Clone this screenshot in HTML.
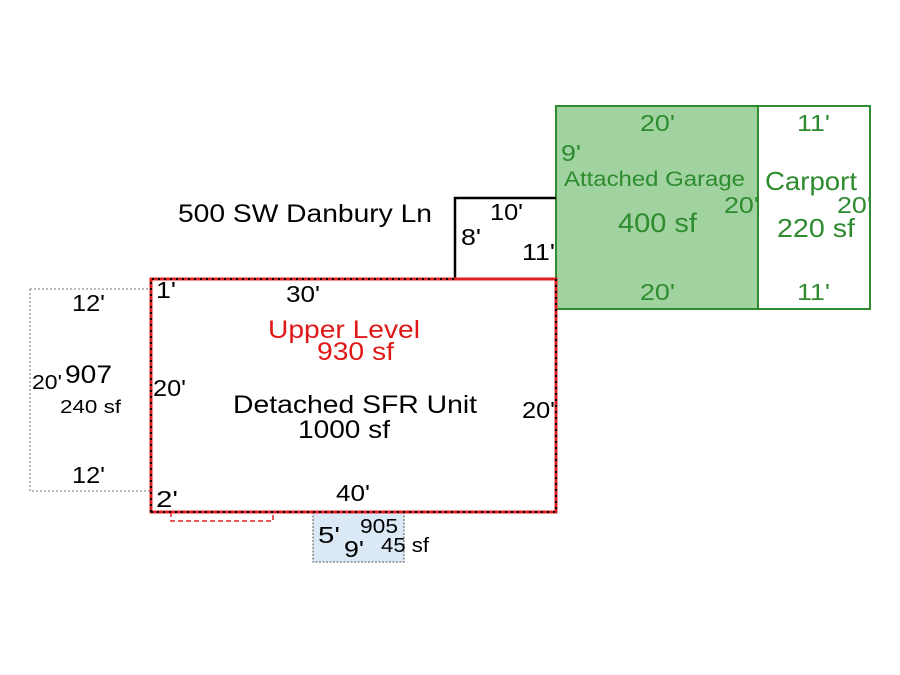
<!DOCTYPE html>
<html><head><meta charset="utf-8"><style>
html,body{margin:0;padding:0;background:#fff;}
svg{display:block;}
text{font-family:"Liberation Sans",Arial,sans-serif;}
</style></head><body>
<svg width="900" height="675" viewBox="0 0 900 675" xmlns="http://www.w3.org/2000/svg">
<rect width="900" height="675" fill="#fff"/>
<rect x="30" y="289" width="121" height="202" fill="none" stroke="#777" stroke-width="1" stroke-dasharray="2,2"/>
<rect x="556" y="106" width="202" height="203" fill="#a0d3a0" stroke="#2e8b2e" stroke-width="2"/>
<rect x="758" y="106" width="112" height="203" fill="#fff" stroke="#2e8b2e" stroke-width="2"/>
<polyline points="455,279 455,198 556,198" fill="none" stroke="#000" stroke-width="2.5"/>
<line x1="455" y1="279" x2="556" y2="279" stroke="#e02020" stroke-width="1.5" stroke-dasharray="5,3"/>
<rect x="313" y="512" width="91" height="50" fill="#dbe8f5" stroke="#555" stroke-width="1" stroke-dasharray="2,1.5"/>
<polyline points="171,512 171,521 273,521 273,512" fill="none" stroke="#e02020" stroke-width="1.5" stroke-dasharray="5,3"/>
<line x1="171" y1="512" x2="273" y2="512" stroke="#000" stroke-width="2.5"/>
<rect x="151" y="279" width="405" height="233" fill="none" stroke="#e02020" stroke-width="3"/>
<polyline points="151,512 151,279 455,279" fill="none" stroke="#000" stroke-width="2" stroke-dasharray="2,4"/>
<polyline points="556,279 556,512 151,512" fill="none" stroke="#000" stroke-width="2" stroke-dasharray="2,4"/>
<g fill="#000" font-size="23">
<text x="178" y="222" font-size="25" textLength="254" lengthAdjust="spacingAndGlyphs">500 SW Danbury Ln</text>
<text x="490" y="220" textLength="33" lengthAdjust="spacingAndGlyphs">10'</text>
<text x="461" y="245" textLength="20" lengthAdjust="spacingAndGlyphs">8'</text>
<text x="522" y="260" textLength="33" lengthAdjust="spacingAndGlyphs">11'</text>
<text x="156" y="298" textLength="20" lengthAdjust="spacingAndGlyphs">1'</text>
<text x="286" y="302" textLength="34" lengthAdjust="spacingAndGlyphs">30'</text>
<text x="72" y="311" textLength="33" lengthAdjust="spacingAndGlyphs">12'</text>
<text x="32" y="389" font-size="20" textLength="30" lengthAdjust="spacingAndGlyphs">20'</text>
<text x="65" y="383" font-size="25" textLength="47" lengthAdjust="spacingAndGlyphs">907</text>
<text x="60" y="413" font-size="18" textLength="61" lengthAdjust="spacingAndGlyphs">240 sf</text>
<text x="72" y="483" textLength="33" lengthAdjust="spacingAndGlyphs">12'</text>
<text x="153" y="396" textLength="33" lengthAdjust="spacingAndGlyphs">20'</text>
<text x="233" y="413" font-size="25" textLength="244" lengthAdjust="spacingAndGlyphs">Detached SFR Unit</text>
<text x="298" y="438" font-size="25" textLength="92" lengthAdjust="spacingAndGlyphs">1000 sf</text>
<text x="522" y="418" textLength="33" lengthAdjust="spacingAndGlyphs">20'</text>
<text x="156" y="507" textLength="22" lengthAdjust="spacingAndGlyphs">2'</text>
<text x="336" y="501" textLength="34" lengthAdjust="spacingAndGlyphs">40'</text>
<text x="318" y="543" textLength="22" lengthAdjust="spacingAndGlyphs">5'</text>
<text x="360" y="533" font-size="20" textLength="38" lengthAdjust="spacingAndGlyphs">905</text>
<text x="344" y="557" textLength="20" lengthAdjust="spacingAndGlyphs">9'</text>
<text x="381" y="552" font-size="20" textLength="48" lengthAdjust="spacingAndGlyphs">45 sf</text>
</g>
<g fill="#e01818" font-size="25">
<text x="268" y="338" textLength="152" lengthAdjust="spacingAndGlyphs">Upper Level</text>
<text x="317" y="360" textLength="77" lengthAdjust="spacingAndGlyphs">930 sf</text>
</g>
<g fill="#2e8b2e" font-size="23">
<text x="640" y="131" textLength="35" lengthAdjust="spacingAndGlyphs">20'</text>
<text x="561" y="161" textLength="20" lengthAdjust="spacingAndGlyphs">9'</text>
<text x="564" y="186" font-size="21" textLength="181" lengthAdjust="spacingAndGlyphs">Attached Garage</text>
<text x="724" y="213" textLength="35" lengthAdjust="spacingAndGlyphs">20'</text>
<text x="618" y="232" font-size="27" textLength="79" lengthAdjust="spacingAndGlyphs">400 sf</text>
<text x="640" y="300" textLength="35" lengthAdjust="spacingAndGlyphs">20'</text>
<text x="797" y="131" textLength="33" lengthAdjust="spacingAndGlyphs">11'</text>
<text x="765" y="190" font-size="26" textLength="92" lengthAdjust="spacingAndGlyphs">Carport</text>
<text x="837" y="213" textLength="35" lengthAdjust="spacingAndGlyphs">20'</text>
<text x="777" y="237" font-size="26" textLength="78" lengthAdjust="spacingAndGlyphs">220 sf</text>
<text x="797" y="300" textLength="33" lengthAdjust="spacingAndGlyphs">11'</text>
</g>
</svg>
</body></html>
